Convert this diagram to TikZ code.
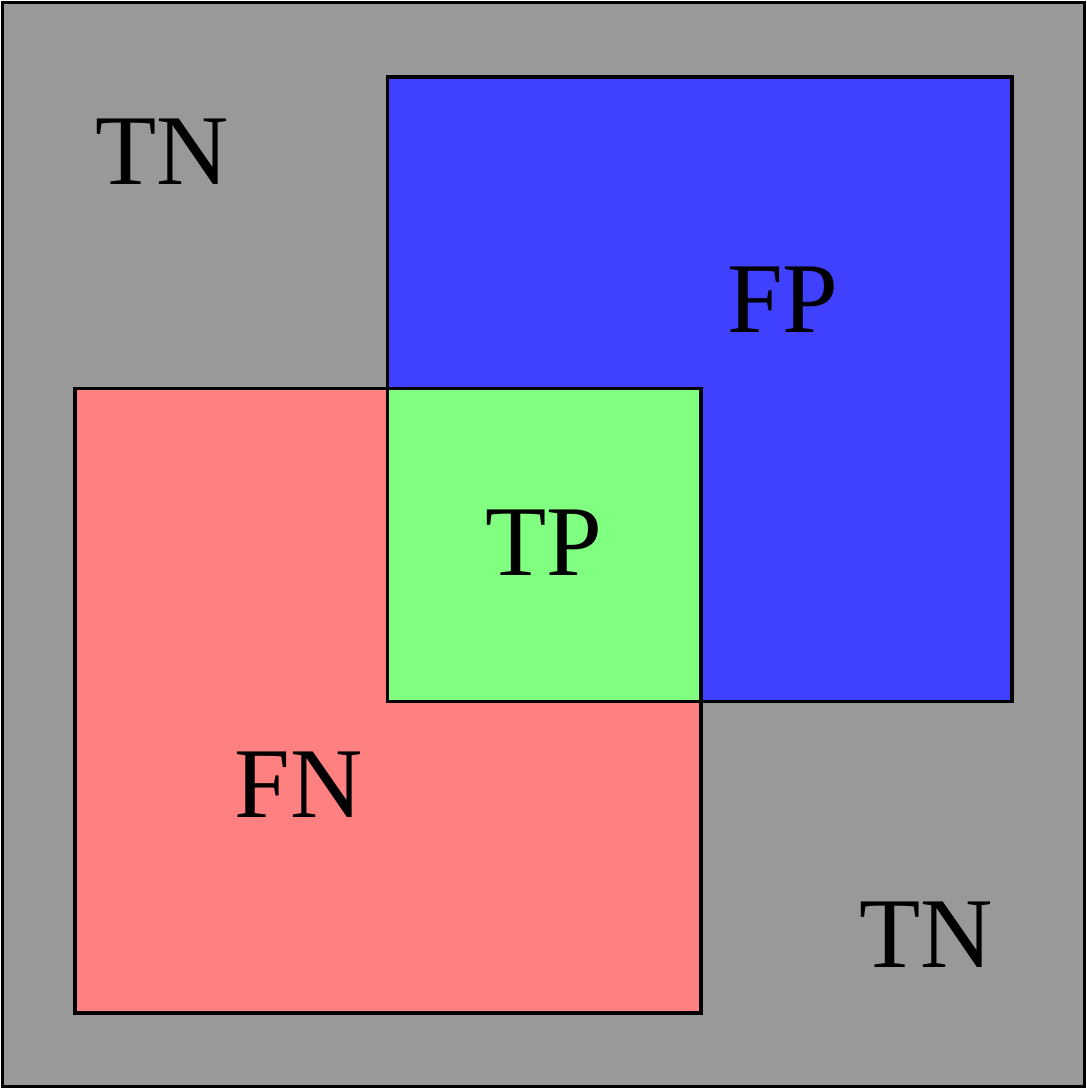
\documentclass[tikz,border=0pt]{standalone}
\usepackage{fontspec}
\setmainfont{Liberation Serif}
\usetikzlibrary{positioning}
\definecolor{setgray}{HTML}{999999}
\definecolor{setblue}{HTML}{4040FF}
\definecolor{setred}{HTML}{FF8080}
\definecolor{setgreen}{HTML}{80FF80}
\tikzset{
  edge/.style={draw=black, line width=0.07cm},
  lab/.style={inner sep=0pt, font=\fontsize{57}{60}\selectfont},
}
\begin{document}
\begin{tikzpicture}[x=0.02cm, y=-0.02cm]
  \useasboundingbox (0,0) rectangle (1087,1091);
  % universe, predicted positive, actual positive
  \filldraw[edge, fill=setgray] (2.5,2.5) rectangle (1084.5,1086.5);
  \filldraw[edge, fill=setblue] (387.5,77) rectangle (1012,701.5);
  \filldraw[edge, fill=setred] (75,388.5) rectangle (701,1013);
  \filldraw[edge, fill=setgreen] (387.5,388.5) rectangle (701,701.5);
  \node[lab] (tnA) at (162,151.5) {TN};
  \node[lab] (fp) at (783,300) {FP};
  \node[lab] (tp) at (544,543) {TP};
  \node[lab] (fn) at (299,785) {FN};
  \node[lab] (tnB) at (926,935) {TN};
\end{tikzpicture}
\end{document}
